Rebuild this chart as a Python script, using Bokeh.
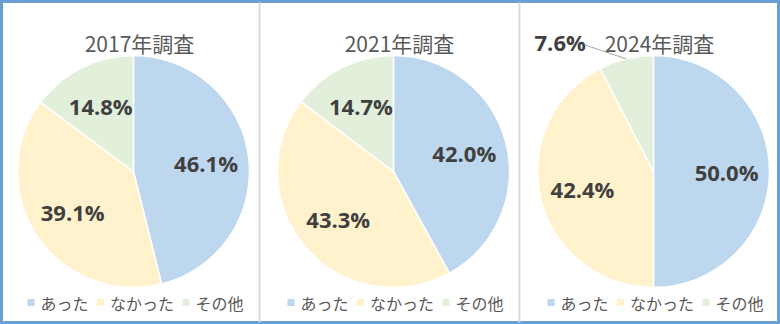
import math
from bokeh.plotting import figure
from bokeh.models import Range1d, ColumnDataSource
from bokeh.core.properties import value
from bokeh.embed import file_html
from bokeh.resources import INLINE

# ---- data ----
surveys = ["2017年調査", "2021年調査", "2024年調査"]
categories = ["あった", "なかった", "その他"]
v2017 = [46.1, 39.1, 14.8]
v2021 = [42.0, 43.3, 14.7]
v2024 = [50.0, 42.4, 7.6]
series = [v2017, v2021, v2024]

# ---- style ----
colors = ["#BDD7EE", "#FFF2CC", "#E2EFDA"]
W, H = 780, 324
PANEL_W = 260
PIE_OFF_X = 133
PIE_CY = 171
R = 116
LABEL_F = 0.63
TITLE_Y = 42
LEGEND_Y = 302
JP = value("Noto Sans CJK JP")
NUM = value("Open Sans")


def Y(ys):
    return H - ys


p = figure(width=W, height=H, x_range=Range1d(0, W), y_range=Range1d(0, H),
           output_backend="svg", toolbar_location=None, min_border=0,
           x_axis_type=None, y_axis_type=None)
p.grid.visible = False
p.background_fill_color = "white"
p.border_fill_color = "white"
p.outline_line_color = "#6A9FD6"
p.outline_line_width = 5

# panel separators
p.segment(x0=[PANEL_W - 1, 2 * PANEL_W - 1], y0=[2, 2], x1=[PANEL_W - 1, 2 * PANEL_W - 1],
          y1=[H - 2, H - 2], line_color="#D9D9D9", line_width=2)

for i, (title, vals) in enumerate(zip(surveys, series)):
    cx = i * PANEL_W + PIE_OFF_X
    cy = Y(PIE_CY)
    total = sum(vals)
    c0s, c1s = [], []
    c = 0.0
    for v in vals:
        c0s.append(c / total)
        c += v
        c1s.append(c / total)
    starts = [math.pi / 2 - 2 * math.pi * b for b in c1s]
    ends = [math.pi / 2 - 2 * math.pi * a for a in c0s]
    src = ColumnDataSource(dict(start=starts, end=ends, color=colors))
    p.wedge(x=cx, y=cy, radius=R, start_angle="start", end_angle="end",
            fill_color="color", line_color="white", line_width=1.5, source=src)

    # data labels
    in_x, in_y, in_t = [], [], []
    for v, a, b in zip(vals, c0s, c1s):
        th = 2 * math.pi * (a + b) / 2
        txt = f"{v:.1f}%"
        if v >= 10:
            in_x.append(cx + LABEL_F * R * math.sin(th))
            in_y.append(cy + LABEL_F * R * math.cos(th))
            in_t.append(txt)
        else:
            ex = cx + R * math.sin(th)
            ey = cy + R * math.cos(th)
            ax = cx + 1.12 * R * math.sin(th) - 37
            ay = cy + 1.12 * R * math.cos(th)
            p.line(x=[ex, ax], y=[ey, ay], line_color="#A6A6A6", line_width=1)
            p.text(x=[ax], y=[ay + 3], text=[txt], text_font=NUM,
                   text_font_style="bold", text_font_size="22px",
                   text_color="#404040", text_align="right", text_baseline="middle")
    p.text(x=in_x, y=in_y, text=in_t, text_font=NUM, text_font_style="bold",
           text_font_size="22px", text_color="#404040", text_align="center",
           text_baseline="middle")

    # title
    p.text(x=[cx + 6], y=[Y(TITLE_Y)], text=[title], text_font=JP,
           text_font_size="21px", text_color="#595959", text_align="center",
           text_baseline="middle")

    # legend
    fs = 16
    widths = [13 + fs * len(cat) for cat in categories]
    gap = 8.5
    total_w = sum(widths) + gap * (len(categories) - 1)
    x = cx + 2 - total_w / 2
    sq_x, tx_x = [], []
    for wdt in widths:
        sq_x.append(x + 3.5)
        tx_x.append(x + 13)
        x += wdt + gap
    p.scatter(x=sq_x, y=[Y(LEGEND_Y)] * 3, marker="square", size=7,
              fill_color=colors, line_color=None)
    p.text(x=tx_x, y=[Y(LEGEND_Y)] * 3, text=categories, text_font=JP,
           text_font_size=f"{fs}px", text_color="#595959", text_align="left",
           text_baseline="middle")

open("out.html", "w").write(file_html(p, INLINE))
